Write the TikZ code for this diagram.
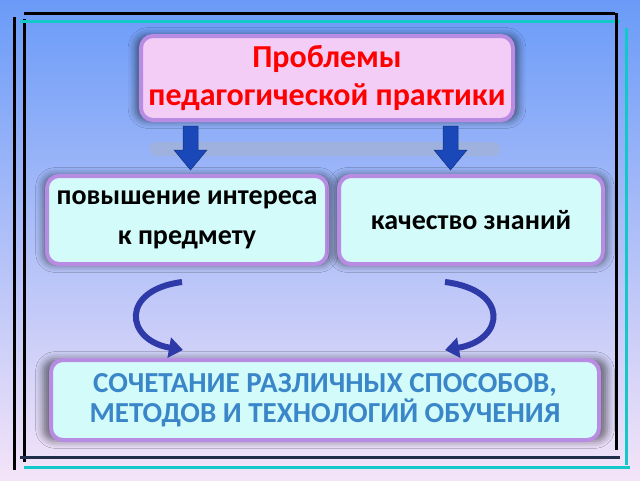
\documentclass[tikz,border=0pt]{standalone}
\usepackage{fontspec}
\setmainfont{Carlito}
\usetikzlibrary{arrows.meta,shadows.blur}
\definecolor{bgtop}{HTML}{6A9BF8}
\definecolor{bgbot}{HTML}{F4E4F8}
\definecolor{glow}{HTML}{8A3FD0}
\definecolor{pinkbox}{HTML}{F4CDF6}
\definecolor{cyanbox}{HTML}{D2FBFA}
\definecolor{arrowblue}{HTML}{1A48B8}
\definecolor{curveblue}{HTML}{2E3AA8}
\definecolor{teal}{HTML}{12C8C8}
\definecolor{methtext}{HTML}{3A86C8}
\tikzset{
  glowbox/.style={draw=glow!60, line width=4pt, rounded corners=12pt,
    blur shadow={shadow xshift=0pt, shadow yshift=0pt, shadow blur radius=7pt, shadow opacity=50, shadow scale=1.03}},
  downarrow/.style={fill=arrowblue, draw=arrowblue!70!black, line width=0.5pt},
  curvearrow/.style={draw=curveblue, line width=6pt, -{Triangle[length=14pt,width=20pt]}},
  frameline/.style={line width=3pt}
}
\begin{document}
\begin{tikzpicture}[x=1pt,y=-1pt]
\useasboundingbox (0,0) rectangle (640,480);
\shade[top color=bgtop, bottom color=bgbot] (0,0) rectangle (640,480);
% frame
\draw[frameline, black] (14,17) -- (14,470);
\draw[frameline, black] (24,19) -- (24,462);
\draw[frameline, teal] (20,21) -- (620,21);
\draw[frameline, black] (24,13) -- (615,13);
\draw[frameline, black] (616,13) -- (616,450);
\draw[frameline, teal] (626,28) -- (626,465);
\draw[frameline, black!70!bgtop] (20,457) -- (620,457);
\draw[frameline, teal] (24,467) -- (630,467);
% shadow bar behind arrows
\fill[gray!60, opacity=0.35, rounded corners=6pt] (150,142) rectangle (500,156);
% boxes
\node[glowbox, fill=pinkbox, minimum width=372pt, minimum height=84pt, align=center,
  text=red, font=\fontsize{32}{38}\selectfont\bfseries] (problems) at (327,78)
  {Проблемы\\педагогической практики};
\node[glowbox, fill=cyanbox, minimum width=280pt, minimum height=88pt, align=center,
  font=\fontsize{28}{40}\selectfont\bfseries] (interest) at (187,220)
  {повышение интереса\\к предмету};
\node[glowbox, fill=cyanbox, minimum width=264pt, minimum height=88pt, align=center,
  font=\fontsize{28}{40}\selectfont\bfseries] (quality) at (471,220)
  {качество знаний};
\node[glowbox, fill=cyanbox, minimum width=548pt, minimum height=80pt, align=center,
  text=methtext, font=\fontsize{29}{30}\selectfont\bfseries] (methods) at (325,400)
  {СОЧЕТАНИЕ РАЗЛИЧНЫХ СПОСОБОВ,\\МЕТОДОВ И ТЕХНОЛОГИЙ ОБУЧЕНИЯ};
% down arrows
\draw[downarrow] (183,126) -- (198,126) -- (198,150) -- (207,150) -- (190.5,170) -- (174,150) -- (183,150) -- cycle;
\draw[downarrow] (443,126) -- (458,126) -- (458,150) -- (467,150) -- (450.5,170) -- (434,150) -- (443,150) -- cycle;
% curved arrows
\coordinate (lstart) at (182,282);
\coordinate (lend) at (183,350);
\coordinate (rstart) at (445,282);
\coordinate (rend) at (445,350);
\draw[curvearrow] (lstart) .. controls (120,290) and (125,340) .. (lend);
\draw[curvearrow] (rstart) .. controls (510,290) and (505,340) .. (rend);
\end{tikzpicture}
\end{document}
